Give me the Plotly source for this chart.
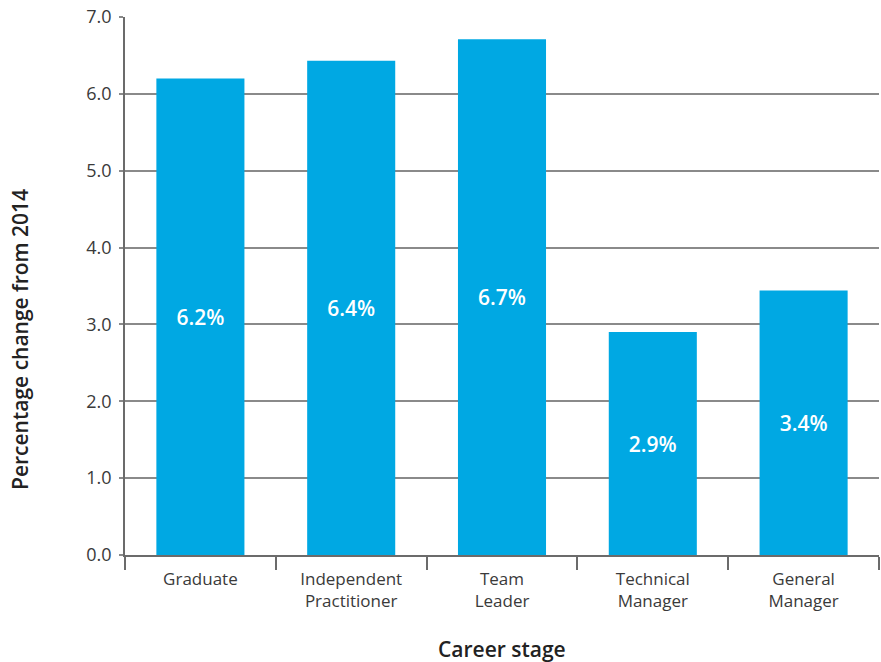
import plotly.graph_objects as go

# Career stages and percentage change in salary from 2014
stages = ["Graduate", "Independent<br>Practitioner", "Team<br>Leader",
          "Technical<br>Manager", "General<br>Manager"]
change = [6.2, 6.43, 6.71, 2.9, 3.44]
labels = [f"{v:.1f}%" for v in change]

y_ticks = [0, 1, 2, 3, 4, 5, 6, 7]
y_tick_text = [f"{v:.1f}" for v in y_ticks]

BAR = "#00A8E3"
GRID = "#8a8a8a"
AXIS = "#6b6b6b"
TEXT = "#3a3a3a"
FONT = "Open Sans"

fig = go.Figure(
    go.Bar(
        x=stages,
        y=change,
        text=labels,
        textposition="inside",
        insidetextanchor="middle",
        textangle=0,
        textfont=dict(family=FONT, size=21, color="white", weight=600),
        marker=dict(color=BAR, line=dict(width=0)),
        hoverinfo="skip",
    )
)

fig.update_layout(
    width=881,
    height=662,
    margin=dict(l=125, r=2, t=17, b=107),
    paper_bgcolor="white",
    plot_bgcolor="white",
    bargap=0.416,
    showlegend=False,
    font=dict(family=FONT, color=TEXT),
    uniformtext=dict(mode="show", minsize=21),
    xaxis=dict(
        showline=True,
        linecolor=AXIS,
        linewidth=1.5,
        tickson="boundaries",
        ticks="outside",
        ticklen=13,
        tickcolor=AXIS,
        tickwidth=1.5,
        ticklabelstandoff=8,
        tickfont=dict(family=FONT, size=17, color=TEXT),
        showgrid=False,
        fixedrange=True,
    ),
    yaxis=dict(
        range=[0, 7],
        tickvals=y_ticks,
        ticktext=y_tick_text,
        showline=True,
        linecolor=AXIS,
        linewidth=1.5,
        ticks="outside",
        ticklen=4,
        tickcolor=GRID,
        tickwidth=1.5,
        ticklabelstandoff=4,
        tickfont=dict(family=FONT, size=18, color=TEXT),
        showgrid=True,
        gridcolor=GRID,
        gridwidth=1.5,
        zeroline=False,
        fixedrange=True,
    ),
    annotations=[
        dict(
            text="Career stage",
            xref="paper", yref="paper",
            x=0.5, y=-0.175, xanchor="center", yanchor="middle",
            showarrow=False,
            font=dict(family=FONT, size=21, color="#222222", weight=600),
        ),
        dict(
            text="Percentage change from 2014",
            xref="paper", yref="paper",
            x=-0.139, y=0.4, xanchor="center", yanchor="middle",
            textangle=-90,
            showarrow=False,
            font=dict(family=FONT, size=21, color="#222222", weight=600),
        ),
    ],
)

fig.write_html("out.html")
